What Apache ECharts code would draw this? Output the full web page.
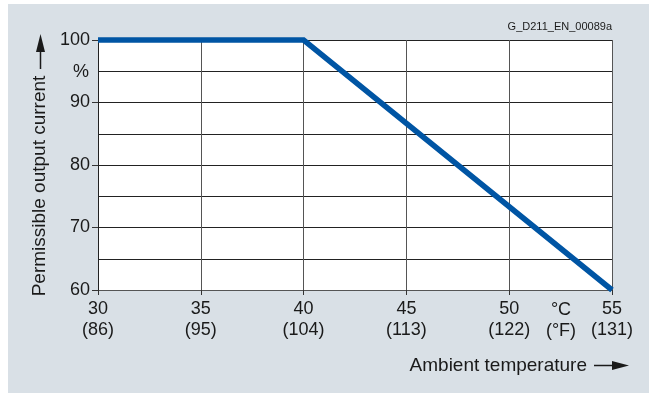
<!DOCTYPE html>
<html><head><meta charset="utf-8">
<script src="https://cdn.jsdelivr.net/npm/echarts@6/dist/echarts.min.js"></script>
<style>html,body{margin:0;padding:0;background:#fff}#c{width:649px;height:393px}</style>
</head><body><div id="c"></div>
<script>
const tempC = [30, 40, 55];
const current = [100, 100, 60];
const xTicksC = [30, 35, 40, 45, 50, 55];
const xTicksF = ['86', '95', '104', '113', '122', '131'];
const yTicks = [60, 70, 80, 90, 100];

const chart = echarts.init(document.getElementById('c'), null, {renderer: 'canvas'});
const txt = '#1a1a1a';
const font = 'Liberation Sans, Arial, sans-serif';
chart.setOption({
  animation: false,
  backgroundColor: '#fff',
  graphic: [
    {type: 'rect', z: -10, shape: {x: 8, y: 4, width: 641, height: 389}, style: {fill: '#d9e0e6'}},
    {type: 'rect', z: -5, shape: {x: 98, y: 40, width: 514, height: 250}, style: {fill: '#fff'}},
    {type: 'text', style: {text: 'G_D211_EN_00089a', x: 612, y: 27, align: 'right', verticalAlign: 'middle', font: '11px ' + font, fill: txt}},
    {type: 'text', style: {text: '%', x: 89, y: 72, align: 'right', verticalAlign: 'middle', font: '18px ' + font, fill: txt}},
    {type: 'text', style: {text: '°C', x: 561, y: 310, align: 'center', verticalAlign: 'middle', font: '18px ' + font, fill: txt}},
    {type: 'text', style: {text: '(°F)', x: 561, y: 331, align: 'center', verticalAlign: 'middle', font: '18px ' + font, fill: txt}},
    {type: 'text', style: {text: 'Ambient temperature', x: 587, y: 366, align: 'right', verticalAlign: 'middle', font: '19px ' + font, fill: txt}},
    {type: 'line', shape: {x1: 594, y1: 365.5, x2: 614, y2: 365.5}, style: {stroke: txt, lineWidth: 1.5}},
    {type: 'polygon', shape: {points: [[612, 361], [629, 365.5], [612, 370]]}, style: {fill: txt}},
    {type: 'text', rotation: Math.PI / 2, x: 40, y: 186, style: {text: 'Permissible output current', x: 0, y: 0, align: 'center', verticalAlign: 'middle', font: '19px ' + font, fill: txt}},
    {type: 'line', shape: {x1: 40.5, y1: 69, x2: 40.5, y2: 50}, style: {stroke: txt, lineWidth: 1.5}},
    {type: 'polygon', shape: {points: [[36, 52], [40.5, 34], [45, 52]]}, style: {fill: txt}}
  ],
  grid: {left: 98, top: 40, width: 514, height: 250, show: false},
  xAxis: {
    type: 'value', min: 30, max: 55, interval: 5,
    axisLine: {show: true, lineStyle: {color: '#555', width: 1}},
    axisTick: {show: true, inside: false, length: 5, lineStyle: {color: '#333'}},
    axisLabel: {color: txt, fontSize: 18, fontFamily: font, lineHeight: 21, margin: 9,
      formatter: v => { const i = xTicksC.indexOf(v); return i >= 0 ? v + '\n(' + xTicksF[i] + ')' : ''; }},
    splitLine: {show: true, lineStyle: {color: '#555', width: 1}}
  },
  yAxis: {
    type: 'value', min: 60, max: 100, interval: 10,
    axisLine: {show: true, lineStyle: {color: '#222', width: 1}},
    axisTick: {show: true, length: 6, lineStyle: {color: '#333'}},
    axisLabel: {color: txt, fontSize: 18, fontFamily: font, margin: 8,
      formatter: v => yTicks.indexOf(v) >= 0 ? String(v) : ''},
    splitLine: {show: true, lineStyle: {color: '#222', width: 1}},
    minorTick: {show: false, splitNumber: 2},
    minorSplitLine: {show: true, lineStyle: {color: '#222', width: 1}}
  },
  series: [{
    type: 'line', data: tempC.map((t, i) => [t, current[i]]), clip: false,
    symbol: 'none', lineStyle: {color: '#0055a4', width: 5.5, cap: 'butt', join: 'miter'}, z: 5
  }]
});
</script></body></html>
